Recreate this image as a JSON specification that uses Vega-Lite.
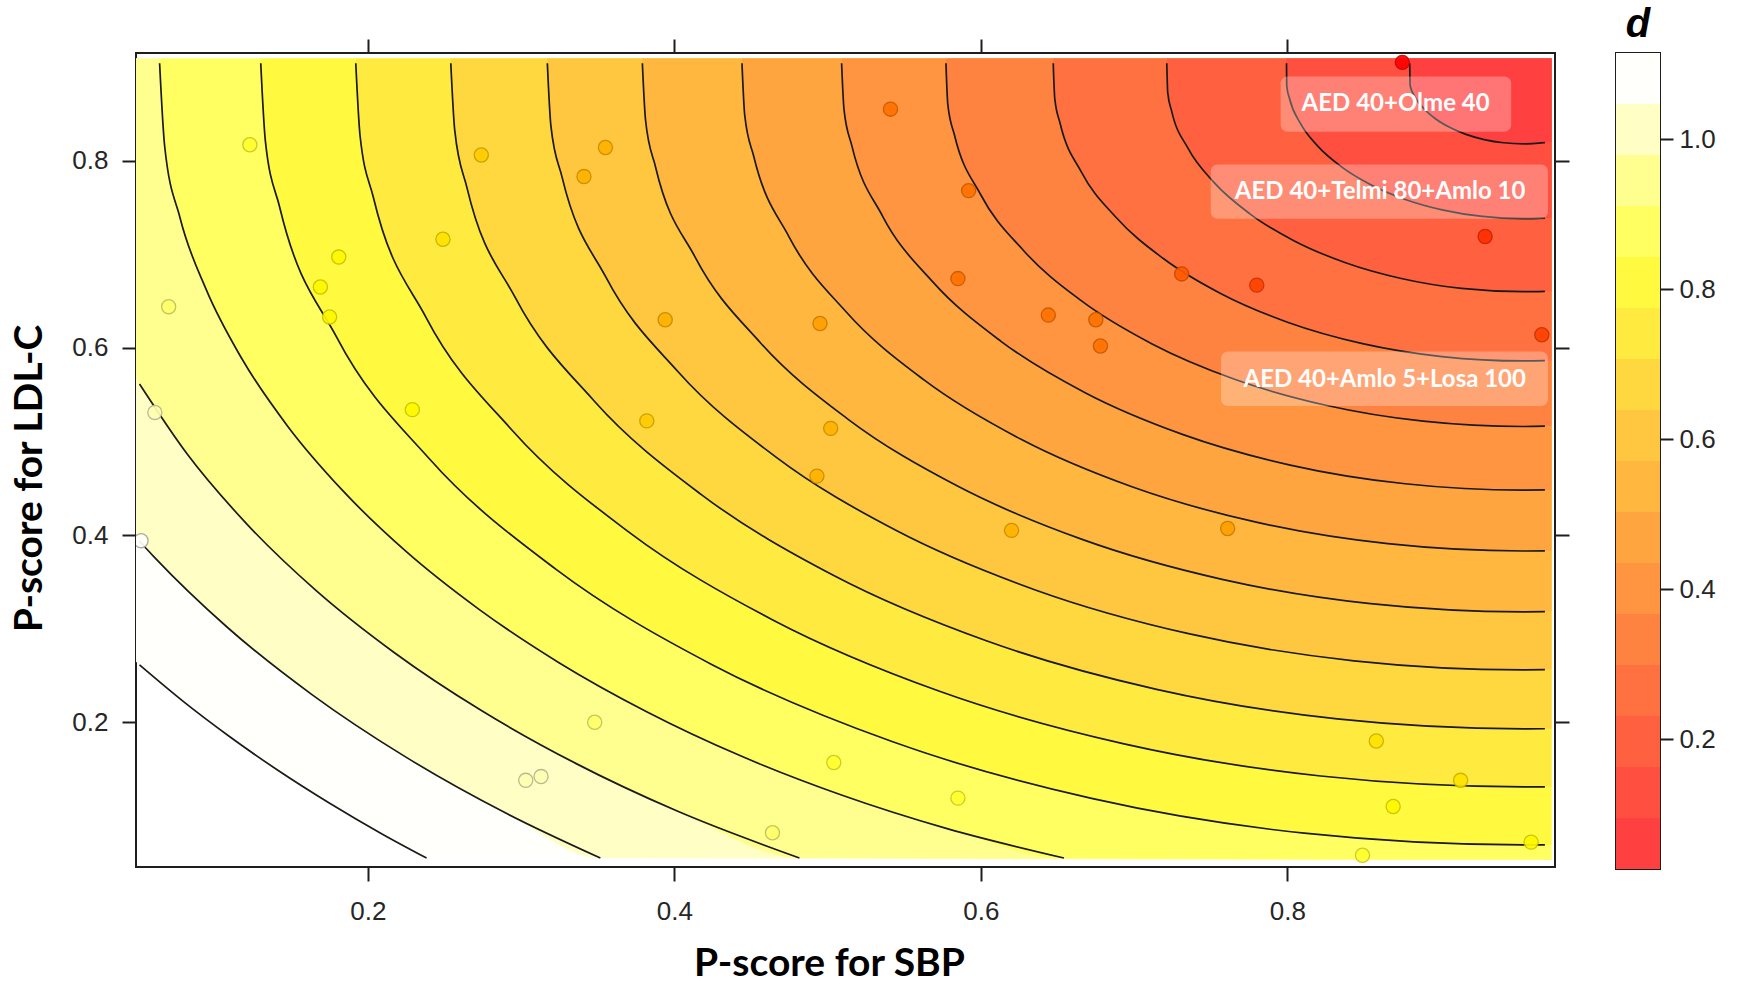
{
  "$schema": "https://vega.github.io/schema/vega-lite/v6.json",
  "background": "white",
  "padding": {"left": 9, "top": 4, "right": 5, "bottom": 0},
  "bounds": "flush",
  "spacing": 61,
  "config": {
    "view": {"stroke": "#1e1e1e", "strokeWidth": 2},
    "axis": {
      "labelFont": "Liberation Sans", "labelFontSize": 26, "labelColor": "#262626",
      "tickColor": "#1e1e1e", "tickWidth": 2, "tickSize": 14, "domain": false, "grid": false,
      "titleFont": "Lato", "titleFontSize": 39, "titleFontWeight": "bold", "titleColor": "#000000"
    }
  },
  "datasets": {
    "contours": [
      {"level": 1.115, "x": 0.0487, "y": 0.2646, "ext": 1},
      {"level": 1.115, "x": 0.051, "y": 0.2613, "ext": 0},
      {"level": 1.115, "x": 0.0797, "y": 0.2221, "ext": 0},
      {"level": 1.115, "x": 0.1099, "y": 0.1846, "ext": 0},
      {"level": 1.115, "x": 0.1415, "y": 0.1485, "ext": 0},
      {"level": 1.115, "x": 0.1748, "y": 0.1138, "ext": 0},
      {"level": 1.115, "x": 0.2095, "y": 0.0805, "ext": 0},
      {"level": 1.115, "x": 0.2383, "y": 0.055, "ext": 0},
      {"level": 1.115, "x": 0.9723, "y": 0.053, "ext": 1},

      {"level": 1.047, "x": 0.0487, "y": 0.3976, "ext": 1},
      {"level": 1.047, "x": 0.051, "y": 0.3934, "ext": 0},
      {"level": 1.047, "x": 0.0603, "y": 0.377, "ext": 0},
      {"level": 1.047, "x": 0.1086, "y": 0.301, "ext": 0},
      {"level": 1.047, "x": 0.1635, "y": 0.2296, "ext": 0},
      {"level": 1.047, "x": 0.2243, "y": 0.1633, "ext": 0},
      {"level": 1.047, "x": 0.2906, "y": 0.1025, "ext": 0},
      {"level": 1.047, "x": 0.3517, "y": 0.055, "ext": 0},
      {"level": 1.047, "x": 0.9723, "y": 0.053, "ext": 1},

      {"level": 0.979, "x": 0.0487, "y": 0.5676, "ext": 1},
      {"level": 0.979, "x": 0.051, "y": 0.5613, "ext": 0},
      {"level": 0.979, "x": 0.0821, "y": 0.4865, "ext": 0},
      {"level": 0.979, "x": 0.1209, "y": 0.412, "ext": 0},
      {"level": 0.979, "x": 0.1659, "y": 0.3412, "ext": 0},
      {"level": 0.979, "x": 0.2171, "y": 0.2746, "ext": 0},
      {"level": 0.979, "x": 0.2738, "y": 0.2128, "ext": 0},
      {"level": 0.979, "x": 0.3356, "y": 0.1561, "ext": 0},
      {"level": 0.979, "x": 0.4022, "y": 0.1049, "ext": 0},
      {"level": 0.979, "x": 0.4816, "y": 0.055, "ext": 0},
      {"level": 0.979, "x": 0.9723, "y": 0.053, "ext": 1},

      {"level": 0.911, "x": 0.0641, "y": 0.904, "ext": 0},
      {"level": 0.911, "x": 0.0674, "y": 0.8154, "ext": 0},
      {"level": 0.911, "x": 0.0775, "y": 0.7385, "ext": 0},
      {"level": 0.911, "x": 0.0944, "y": 0.6627, "ext": 0},
      {"level": 0.911, "x": 0.1177, "y": 0.5886, "ext": 0},
      {"level": 0.911, "x": 0.1474, "y": 0.5169, "ext": 0},
      {"level": 0.911, "x": 0.1833, "y": 0.448, "ext": 0},
      {"level": 0.911, "x": 0.2249, "y": 0.3825, "ext": 0},
      {"level": 0.911, "x": 0.2723, "y": 0.3209, "ext": 0},
      {"level": 0.911, "x": 0.3247, "y": 0.2637, "ext": 0},
      {"level": 0.911, "x": 0.3819, "y": 0.2113, "ext": 0},
      {"level": 0.911, "x": 0.4435, "y": 0.1639, "ext": 0},
      {"level": 0.911, "x": 0.509, "y": 0.1223, "ext": 0},
      {"level": 0.911, "x": 0.5779, "y": 0.0864, "ext": 0},
      {"level": 0.911, "x": 0.6542, "y": 0.055, "ext": 0},
      {"level": 0.911, "x": 0.9723, "y": 0.053, "ext": 1},

      {"level": 0.843, "x": 0.1301, "y": 0.904, "ext": 0},
      {"level": 0.843, "x": 0.1331, "y": 0.8212, "ext": 0},
      {"level": 0.843, "x": 0.1425, "y": 0.75, "ext": 0},
      {"level": 0.843, "x": 0.1797, "y": 0.6112, "ext": 0},
      {"level": 0.843, "x": 0.2404, "y": 0.481, "ext": 0},
      {"level": 0.843, "x": 0.3228, "y": 0.3633, "ext": 0},
      {"level": 0.843, "x": 0.4243, "y": 0.2618, "ext": 0},
      {"level": 0.843, "x": 0.542, "y": 0.1794, "ext": 0},
      {"level": 0.843, "x": 0.6722, "y": 0.1187, "ext": 0},
      {"level": 0.843, "x": 0.811, "y": 0.0815, "ext": 0},
      {"level": 0.843, "x": 0.954, "y": 0.069, "ext": 0},
      {"level": 0.843, "x": 0.968, "y": 0.0691, "ext": 0},
      {"level": 0.843, "x": 0.9723, "y": 0.0692, "ext": 1},

      {"level": 0.775, "x": 0.1921, "y": 0.904, "ext": 0},
      {"level": 0.775, "x": 0.1949, "y": 0.8266, "ext": 0},
      {"level": 0.775, "x": 0.2036, "y": 0.7607, "ext": 0},
      {"level": 0.775, "x": 0.238, "y": 0.6324, "ext": 0},
      {"level": 0.775, "x": 0.2941, "y": 0.512, "ext": 0},
      {"level": 0.775, "x": 0.3703, "y": 0.4032, "ext": 0},
      {"level": 0.775, "x": 0.4642, "y": 0.3093, "ext": 0},
      {"level": 0.775, "x": 0.573, "y": 0.2331, "ext": 0},
      {"level": 0.775, "x": 0.6934, "y": 0.177, "ext": 0},
      {"level": 0.775, "x": 0.8217, "y": 0.1426, "ext": 0},
      {"level": 0.775, "x": 0.954, "y": 0.131, "ext": 0},
      {"level": 0.775, "x": 0.968, "y": 0.1311, "ext": 0},
      {"level": 0.775, "x": 0.9723, "y": 0.1312, "ext": 1},

      {"level": 0.707, "x": 0.2541, "y": 0.904, "ext": 0},
      {"level": 0.707, "x": 0.2567, "y": 0.832, "ext": 0},
      {"level": 0.707, "x": 0.2646, "y": 0.7715, "ext": 0},
      {"level": 0.707, "x": 0.2962, "y": 0.6536, "ext": 0},
      {"level": 0.707, "x": 0.3478, "y": 0.543, "ext": 0},
      {"level": 0.707, "x": 0.4178, "y": 0.443, "ext": 0},
      {"level": 0.707, "x": 0.504, "y": 0.3568, "ext": 0},
      {"level": 0.707, "x": 0.604, "y": 0.2868, "ext": 0},
      {"level": 0.707, "x": 0.7146, "y": 0.2352, "ext": 0},
      {"level": 0.707, "x": 0.8325, "y": 0.2036, "ext": 0},
      {"level": 0.707, "x": 0.954, "y": 0.193, "ext": 0},
      {"level": 0.707, "x": 0.968, "y": 0.1931, "ext": 0},
      {"level": 0.707, "x": 0.9723, "y": 0.1932, "ext": 1},

      {"level": 0.639, "x": 0.3171, "y": 0.904, "ext": 0},
      {"level": 0.639, "x": 0.3194, "y": 0.8375, "ext": 0},
      {"level": 0.639, "x": 0.3267, "y": 0.7824, "ext": 0},
      {"level": 0.639, "x": 0.3554, "y": 0.6752, "ext": 0},
      {"level": 0.639, "x": 0.4024, "y": 0.5745, "ext": 0},
      {"level": 0.639, "x": 0.4661, "y": 0.4835, "ext": 0},
      {"level": 0.639, "x": 0.5445, "y": 0.4051, "ext": 0},
      {"level": 0.639, "x": 0.6355, "y": 0.3414, "ext": 0},
      {"level": 0.639, "x": 0.7362, "y": 0.2944, "ext": 0},
      {"level": 0.639, "x": 0.8434, "y": 0.2657, "ext": 0},
      {"level": 0.639, "x": 0.954, "y": 0.256, "ext": 0},
      {"level": 0.639, "x": 0.968, "y": 0.2562, "ext": 0},
      {"level": 0.639, "x": 0.9723, "y": 0.2563, "ext": 1},

      {"level": 0.571, "x": 0.3791, "y": 0.904, "ext": 0},
      {"level": 0.571, "x": 0.3812, "y": 0.8429, "ext": 0},
      {"level": 0.571, "x": 0.3877, "y": 0.7932, "ext": 0},
      {"level": 0.571, "x": 0.4137, "y": 0.6964, "ext": 0},
      {"level": 0.571, "x": 0.4561, "y": 0.6055, "ext": 0},
      {"level": 0.571, "x": 0.5136, "y": 0.5234, "ext": 0},
      {"level": 0.571, "x": 0.5844, "y": 0.4526, "ext": 0},
      {"level": 0.571, "x": 0.6665, "y": 0.3951, "ext": 0},
      {"level": 0.571, "x": 0.7574, "y": 0.3527, "ext": 0},
      {"level": 0.571, "x": 0.8542, "y": 0.3267, "ext": 0},
      {"level": 0.571, "x": 0.954, "y": 0.318, "ext": 0},
      {"level": 0.571, "x": 0.968, "y": 0.3182, "ext": 0},
      {"level": 0.571, "x": 0.9723, "y": 0.3183, "ext": 1},

      {"level": 0.503, "x": 0.4441, "y": 0.904, "ext": 0},
      {"level": 0.503, "x": 0.4459, "y": 0.8485, "ext": 0},
      {"level": 0.503, "x": 0.4518, "y": 0.8045, "ext": 0},
      {"level": 0.503, "x": 0.4748, "y": 0.7186, "ext": 0},
      {"level": 0.503, "x": 0.5123, "y": 0.638, "ext": 0},
      {"level": 0.503, "x": 0.5633, "y": 0.5652, "ext": 0},
      {"level": 0.503, "x": 0.6262, "y": 0.5023, "ext": 0},
      {"level": 0.503, "x": 0.699, "y": 0.4513, "ext": 0},
      {"level": 0.503, "x": 0.7796, "y": 0.4138, "ext": 0},
      {"level": 0.503, "x": 0.8655, "y": 0.3908, "ext": 0},
      {"level": 0.503, "x": 0.954, "y": 0.383, "ext": 0},
      {"level": 0.503, "x": 0.968, "y": 0.3832, "ext": 0},
      {"level": 0.503, "x": 0.9723, "y": 0.3833, "ext": 1},

      {"level": 0.435, "x": 0.5091, "y": 0.904, "ext": 0},
      {"level": 0.435, "x": 0.5107, "y": 0.8542, "ext": 0},
      {"level": 0.435, "x": 0.5158, "y": 0.8158, "ext": 0},
      {"level": 0.435, "x": 0.5358, "y": 0.7408, "ext": 0},
      {"level": 0.435, "x": 0.5686, "y": 0.6705, "ext": 0},
      {"level": 0.435, "x": 0.6131, "y": 0.607, "ext": 0},
      {"level": 0.435, "x": 0.668, "y": 0.5521, "ext": 0},
      {"level": 0.435, "x": 0.7315, "y": 0.5076, "ext": 0},
      {"level": 0.435, "x": 0.8018, "y": 0.4748, "ext": 0},
      {"level": 0.435, "x": 0.8768, "y": 0.4548, "ext": 0},
      {"level": 0.435, "x": 0.954, "y": 0.448, "ext": 0},
      {"level": 0.435, "x": 0.968, "y": 0.4482, "ext": 0},
      {"level": 0.435, "x": 0.9723, "y": 0.4484, "ext": 1},

      {"level": 0.367, "x": 0.5772, "y": 0.904, "ext": 0},
      {"level": 0.367, "x": 0.5784, "y": 0.8601, "ext": 0},
      {"level": 0.367, "x": 0.5827, "y": 0.8276, "ext": 0},
      {"level": 0.367, "x": 0.5997, "y": 0.7641, "ext": 0},
      {"level": 0.367, "x": 0.6275, "y": 0.7045, "ext": 0},
      {"level": 0.367, "x": 0.6652, "y": 0.6507, "ext": 0},
      {"level": 0.367, "x": 0.7117, "y": 0.6042, "ext": 0},
      {"level": 0.367, "x": 0.7655, "y": 0.5665, "ext": 0},
      {"level": 0.367, "x": 0.8251, "y": 0.5387, "ext": 0},
      {"level": 0.367, "x": 0.8886, "y": 0.5217, "ext": 0},
      {"level": 0.367, "x": 0.954, "y": 0.516, "ext": 0},
      {"level": 0.367, "x": 0.968, "y": 0.5163, "ext": 0},
      {"level": 0.367, "x": 0.9723, "y": 0.5165, "ext": 1},

      {"level": 0.299, "x": 0.6472, "y": 0.904, "ext": 0},
      {"level": 0.299, "x": 0.6482, "y": 0.8662, "ext": 0},
      {"level": 0.299, "x": 0.6517, "y": 0.8397, "ext": 0},
      {"level": 0.299, "x": 0.6655, "y": 0.788, "ext": 0},
      {"level": 0.299, "x": 0.6881, "y": 0.7395, "ext": 0},
      {"level": 0.299, "x": 0.7188, "y": 0.6957, "ext": 0},
      {"level": 0.299, "x": 0.7567, "y": 0.6578, "ext": 0},
      {"level": 0.299, "x": 0.8005, "y": 0.6271, "ext": 0},
      {"level": 0.299, "x": 0.849, "y": 0.6045, "ext": 0},
      {"level": 0.299, "x": 0.9007, "y": 0.5907, "ext": 0},
      {"level": 0.299, "x": 0.954, "y": 0.586, "ext": 0},
      {"level": 0.299, "x": 0.968, "y": 0.5863, "ext": 0},
      {"level": 0.299, "x": 0.9723, "y": 0.5866, "ext": 1},

      {"level": 0.231, "x": 0.7213, "y": 0.904, "ext": 0},
      {"level": 0.231, "x": 0.7219, "y": 0.8727, "ext": 0},
      {"level": 0.231, "x": 0.7245, "y": 0.8526, "ext": 0},
      {"level": 0.231, "x": 0.7351, "y": 0.8133, "ext": 0},
      {"level": 0.231, "x": 0.7522, "y": 0.7765, "ext": 0},
      {"level": 0.231, "x": 0.7755, "y": 0.7432, "ext": 0},
      {"level": 0.231, "x": 0.8042, "y": 0.7145, "ext": 0},
      {"level": 0.231, "x": 0.8375, "y": 0.6912, "ext": 0},
      {"level": 0.231, "x": 0.8743, "y": 0.6741, "ext": 0},
      {"level": 0.231, "x": 0.9136, "y": 0.6635, "ext": 0},
      {"level": 0.231, "x": 0.954, "y": 0.66, "ext": 0},
      {"level": 0.231, "x": 0.968, "y": 0.6604, "ext": 0},
      {"level": 0.231, "x": 0.9723, "y": 0.6607, "ext": 1},

      {"level": 0.163, "x": 0.7994, "y": 0.904, "ext": 0},
      {"level": 0.163, "x": 0.7996, "y": 0.8795, "ext": 0},
      {"level": 0.163, "x": 0.8014, "y": 0.8661, "ext": 0},
      {"level": 0.163, "x": 0.8084, "y": 0.84, "ext": 0},
      {"level": 0.163, "x": 0.8198, "y": 0.8155, "ext": 0},
      {"level": 0.163, "x": 0.8353, "y": 0.7934, "ext": 0},
      {"level": 0.163, "x": 0.8544, "y": 0.7743, "ext": 0},
      {"level": 0.163, "x": 0.8765, "y": 0.7588, "ext": 0},
      {"level": 0.163, "x": 0.901, "y": 0.7474, "ext": 0},
      {"level": 0.163, "x": 0.9271, "y": 0.7404, "ext": 0},
      {"level": 0.163, "x": 0.954, "y": 0.738, "ext": 0},
      {"level": 0.163, "x": 0.968, "y": 0.7386, "ext": 0},
      {"level": 0.163, "x": 0.9723, "y": 0.7391, "ext": 1},

      {"level": 0.095, "x": 0.8798, "y": 0.904, "ext": 0},
      {"level": 0.095, "x": 0.8801, "y": 0.88, "ext": 0},
      {"level": 0.095, "x": 0.8835, "y": 0.8674, "ext": 0},
      {"level": 0.095, "x": 0.8891, "y": 0.8555, "ext": 0},
      {"level": 0.095, "x": 0.8966, "y": 0.8448, "ext": 0},
      {"level": 0.095, "x": 0.9058, "y": 0.8356, "ext": 0},
      {"level": 0.095, "x": 0.9165, "y": 0.8281, "ext": 0},
      {"level": 0.095, "x": 0.9284, "y": 0.8225, "ext": 0},
      {"level": 0.095, "x": 0.941, "y": 0.8191, "ext": 0},
      {"level": 0.095, "x": 0.954, "y": 0.818, "ext": 0},
      {"level": 0.095, "x": 0.968, "y": 0.8193, "ext": 0},
      {"level": 0.095, "x": 0.9723, "y": 0.8203, "ext": 1}
    ],
    "points": [
      {"x": 0.875, "y": 0.905, "d": 0.09},
      {"x": 0.541, "y": 0.855, "d": 0.405},
      {"x": 0.929, "y": 0.719, "d": 0.181},
      {"x": 0.123, "y": 0.817, "d": 0.854},
      {"x": 0.274, "y": 0.806, "d": 0.691},
      {"x": 0.355, "y": 0.814, "d": 0.603},
      {"x": 0.341, "y": 0.783, "d": 0.623},
      {"x": 0.592, "y": 0.768, "d": 0.373},
      {"x": 0.249, "y": 0.716, "d": 0.736},
      {"x": 0.181, "y": 0.697, "d": 0.814},
      {"x": 0.169, "y": 0.665, "d": 0.836},
      {"x": 0.175, "y": 0.633, "d": 0.84},
      {"x": 0.07, "y": 0.644, "d": 0.938},
      {"x": 0.585, "y": 0.674, "d": 0.419},
      {"x": 0.731, "y": 0.679, "d": 0.301},
      {"x": 0.78, "y": 0.667, "d": 0.279},
      {"x": 0.644, "y": 0.635, "d": 0.393},
      {"x": 0.675, "y": 0.63, "d": 0.373},
      {"x": 0.678, "y": 0.602, "d": 0.391},
      {"x": 0.966, "y": 0.614, "d": 0.274},
      {"x": 0.394, "y": 0.63, "d": 0.619},
      {"x": 0.495, "y": 0.626, "d": 0.525},
      {"x": 0.061, "y": 0.531, "d": 0.981},
      {"x": 0.229, "y": 0.534, "d": 0.827},
      {"x": 0.382, "y": 0.522, "d": 0.687},
      {"x": 0.502, "y": 0.514, "d": 0.587},
      {"x": 0.493, "y": 0.463, "d": 0.632},
      {"x": 0.052, "y": 0.394, "d": 1.05},
      {"x": 0.62, "y": 0.405, "d": 0.589},
      {"x": 0.761, "y": 0.407, "d": 0.516},
      {"x": 0.348, "y": 0.2, "d": 0.94},
      {"x": 0.303, "y": 0.138, "d": 1.013},
      {"x": 0.313, "y": 0.142, "d": 1.004},
      {"x": 0.464, "y": 0.082, "d": 0.965},
      {"x": 0.504, "y": 0.157, "d": 0.883},
      {"x": 0.585, "y": 0.119, "d": 0.877},
      {"x": 0.858, "y": 0.18, "d": 0.728},
      {"x": 0.869, "y": 0.11, "d": 0.803},
      {"x": 0.913, "y": 0.138, "d": 0.768},
      {"x": 0.849, "y": 0.058, "d": 0.861},
      {"x": 0.959, "y": 0.072, "d": 0.84}
    ],
    "labels": [
      {"label": "AED 40+Olme 40", "x": 0.8706, "y": 0.861, "xmin": 0.7956, "xmax": 0.946, "ymin": 0.831, "ymax": 0.89},
      {"label": "AED 40+Telmi 80+Amlo 10", "x": 0.8605, "y": 0.766, "xmin": 0.75, "xmax": 0.97, "ymin": 0.738, "ymax": 0.796},
      {"label": "AED 40+Amlo 5+Losa 100", "x": 0.8635, "y": 0.566, "xmin": 0.7567, "xmax": 0.97, "ymin": 0.538, "ymax": 0.596}
    ],
    "bands": [
      {"lo": 0.027, "level": 0.095},
      {"lo": 0.095, "level": 0.163},
      {"lo": 0.163, "level": 0.231},
      {"lo": 0.231, "level": 0.299},
      {"lo": 0.299, "level": 0.367},
      {"lo": 0.367, "level": 0.435},
      {"lo": 0.435, "level": 0.503},
      {"lo": 0.503, "level": 0.571},
      {"lo": 0.571, "level": 0.639},
      {"lo": 0.639, "level": 0.707},
      {"lo": 0.707, "level": 0.775},
      {"lo": 0.775, "level": 0.843},
      {"lo": 0.843, "level": 0.911},
      {"lo": 0.911, "level": 0.979},
      {"lo": 0.979, "level": 1.047},
      {"lo": 1.047, "level": 1.115}
    ]
  },
  "hconcat": [
    {
      "width": 1419,
      "height": 814,
      "layer": [
        {
          "data": {"name": "contours"},
          "mark": {"type": "area", "interpolate": "monotone"},
          "encoding": {
            "x": {"field": "x", "type": "quantitative",
              "scale": {"domain": [0.0487, 0.9746], "nice": false, "zero": false},
              "axis": {"orient": "bottom", "values": [0.2, 0.4, 0.6, 0.8], "format": ".1f", "title": "P-score for SBP", "labelPadding": 17, "titlePadding": 20, "titleX": 693}},
            "y": {"field": "y", "type": "quantitative", "stack": null,
              "scale": {"domain": [0.0454, 0.915], "nice": false, "zero": false},
              "axis": {"orient": "left", "values": [0.2, 0.4, 0.6, 0.8], "format": ".1f", "title": "P-score for LDL-C", "labelPadding": 14, "titlePadding": 22, "titleY": 425}},
            "y2": {"datum": 0.909},
            "color": {"field": "level", "type": "ordinal", "legend": null,
              "scale": {
                "domain": [1.115, 1.047, 0.979, 0.911, 0.843, 0.775, 0.707, 0.639, 0.571, 0.503, 0.435, 0.367, 0.299, 0.231, 0.163, 0.095],
                "range": ["#FFFFFB", "#FFFFC5", "#FFFF90", "#FFFF62", "#FFFA40", "#FFEA40", "#FFD840", "#FFC640", "#FFB740", "#FFA540", "#FF9540", "#FF8340", "#FF7140", "#FF6140", "#FF4F40", "#FF4040"]}}
          }
        },
        {
          "data": {"name": "contours"},
          "transform": [{"filter": "datum.ext == 0"}],
          "mark": {"type": "line", "interpolate": "monotone", "color": "#1a1a1a", "strokeWidth": 1.7},
          "encoding": {
            "x": {"field": "x", "type": "quantitative",
              "axis": {"orient": "top", "values": [0.2, 0.4, 0.6, 0.8], "labels": false, "title": null}},
            "y": {"field": "y", "type": "quantitative",
              "axis": {"orient": "right", "values": [0.2, 0.4, 0.6, 0.8], "labels": false, "title": null}},
            "detail": {"field": "level", "type": "nominal"}
          }
        },
        {
          "data": {"name": "points"},
          "mark": {"type": "point", "filled": true, "size": 200, "strokeWidth": 1.3, "opacity": 0.92, "clip": true},
          "encoding": {
            "x": {"field": "x", "type": "quantitative", "axis": null},
            "y": {"field": "y", "type": "quantitative", "axis": null},
            "fill": {"field": "d", "type": "quantitative", "legend": null,
              "scale": {"type": "threshold",
                "domain": [0.095, 0.163, 0.231, 0.299, 0.367, 0.435, 0.503, 0.571, 0.639, 0.707, 0.775, 0.843, 0.911, 0.979, 1.047],
                "range": ["#FF0000", "#FF1500", "#FF2D00", "#FF4200", "#FF5A00", "#FF7200", "#FF8600", "#FF9F00", "#FFB300", "#FFCB00", "#FFE300", "#FFF800", "#FFFF2E", "#FFFF6B", "#FFFFB2", "#FFFFFA"]}},
            "stroke": {"field": "d", "type": "quantitative", "legend": null,
              "scale": {"type": "threshold",
                "domain": [0.095, 0.163, 0.231, 0.299, 0.367, 0.435, 0.503, 0.571, 0.639, 0.707, 0.775, 0.843, 0.911, 0.979, 1.047],
                "range": ["#C70000", "#C71000", "#C72300", "#C73300", "#C74600", "#C75900", "#C76900", "#C77C00", "#C78C00", "#C79E00", "#C7B100", "#C7C100", "#C7C724", "#C0C055", "#B4B48C", "#A5A59C"]}}
          }
        },
        {
          "data": {"name": "labels"},
          "mark": {"type": "rect", "fill": "white", "fillOpacity": 0.28, "cornerRadius": 7},
          "encoding": {
            "x": {"field": "xmin", "type": "quantitative", "axis": null},
            "x2": {"field": "xmax"},
            "y": {"field": "ymin", "type": "quantitative", "axis": null},
            "y2": {"field": "ymax"}
          }
        },
        {
          "data": {"name": "labels"},
          "mark": {"type": "text", "color": "white", "font": "Lato", "fontWeight": "bold", "fontSize": 24},
          "encoding": {
            "x": {"field": "x", "type": "quantitative", "axis": null},
            "y": {"field": "y", "type": "quantitative", "axis": null},
            "text": {"field": "label", "type": "nominal"}
          }
        }
      ],
      "resolve": {"axis": {"x": "independent", "y": "independent"}}
    },
    {
      "width": 44,
      "height": 816,
      "data": {"name": "bands"},
      "title": {"text": "d", "font": "Liberation Sans", "fontSize": 40, "fontWeight": "bold", "fontStyle": "italic", "anchor": "middle", "offset": 8, "color": "#000000"},
      "mark": {"type": "rect"},
      "encoding": {
        "y": {"field": "lo", "type": "quantitative",
          "scale": {"domain": [0.027, 1.115], "nice": false, "zero": false},
          "axis": {"orient": "right", "values": [0.2, 0.4, 0.6, 0.8, 1.0], "format": ".1f", "title": null, "tickSize": 13, "labelPadding": 6}},
        "y2": {"field": "level"},
        "color": {"field": "level", "type": "ordinal", "legend": null,
          "scale": {
            "domain": [1.115, 1.047, 0.979, 0.911, 0.843, 0.775, 0.707, 0.639, 0.571, 0.503, 0.435, 0.367, 0.299, 0.231, 0.163, 0.095],
            "range": ["#FFFFFB", "#FFFFC5", "#FFFF90", "#FFFF62", "#FFFA40", "#FFEA40", "#FFD840", "#FFC640", "#FFB740", "#FFA540", "#FF9540", "#FF8340", "#FF7140", "#FF6140", "#FF4F40", "#FF4040"]}}
      }
    }
  ]
}
